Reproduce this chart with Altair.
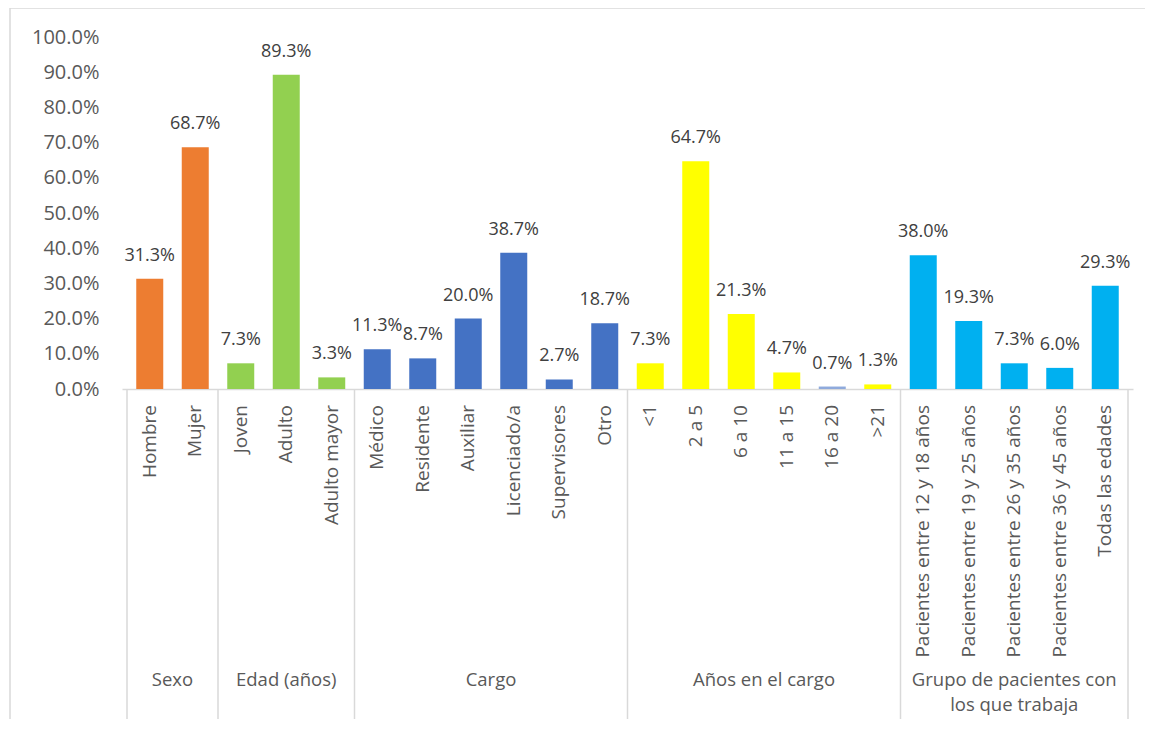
import altair as alt
import pandas as pd

# ---------------- data ----------------
groups = ["Sexo", "Edad (años)", "Cargo", "Años en el cargo",
          "Grupo de pacientes con\nlos que trabaja"]
sexo_cats = ["Hombre", "Mujer"]
sexo_vals = [0.313, 0.687]
edad_cats = ["Joven", "Adulto", "Adulto mayor"]
edad_vals = [0.073, 0.893, 0.033]
cargo_cats = ["Médico", "Residente", "Auxiliar", "Licenciado/a", "Supervisores", "Otro"]
cargo_vals = [0.113, 0.087, 0.200, 0.387, 0.027, 0.187]
anios_cats = ["<1", "2 a 5", "6 a 10", "11 a 15", "16 a 20", ">21"]
anios_vals = [0.073, 0.647, 0.213, 0.047, 0.007, 0.013]
grupo_cats = ["Pacientes entre 12 y 18 años", "Pacientes entre 19 y 25 años",
              "Pacientes entre 26 y 35 años", "Pacientes entre 36 y 45 años",
              "Todas las edades"]
grupo_vals = [0.380, 0.193, 0.073, 0.060, 0.293]
group_colors = ["#ED7D31", "#92D050", "#4472C4", "#FFFF00", "#00B0F0"]
special_color = {"16 a 20": "#8FAADC"}
y_ticks = [0.0, 0.1, 0.2, 0.3, 0.4, 0.5, 0.6, 0.7, 0.8, 0.9, 1.0]

all_cats = [sexo_cats, edad_cats, cargo_cats, anios_cats, grupo_cats]
all_vals = [sexo_vals, edad_vals, cargo_vals, anios_vals, grupo_vals]

rows = []
grows = []
bounds = [0]
i = 0
for g, cats, vals, col in zip(groups, all_cats, all_vals, group_colors):
    start = i
    for c, v in zip(cats, vals):
        rows.append({"cat": c, "value": v, "group": g, "pos": i + 0.5,
                     "color": special_color.get(c, col)})
        i += 1
    bounds.append(i)
    grows.append({"group": g, "mid": (start + i) / 2})
df = pd.DataFrame(rows)
gdf = pd.DataFrame(grows)
bdf = pd.DataFrame({"b": bounds})
N = len(df)

W, H = 1011, 352
FONT = "Open Sans"
AXC = "#595959"
LINEC = "#D9D9D9"

xs = alt.Scale(domain=[0, N], nice=False, zero=False)
ys = alt.Scale(domain=[0, 1], nice=False)
x_axis = alt.Axis(labels=False, ticks=False, grid=False, domain=True,
                  domainColor=LINEC, domainWidth=1.5, title=None)
y_axis = alt.Axis(values=y_ticks, format=".1%", grid=False, ticks=False,
                  tickSize=0, domain=False, labelFont=FONT,
                  labelFontSize=20, labelColor=AXC, labelPadding=23,
                  labelOverlap=False, labelFlush=False, title=None)

base = alt.Chart(df)

bars = base.mark_bar(size=27).encode(
    x=alt.X("pos:Q", scale=xs, axis=x_axis),
    y=alt.Y("value:Q", scale=ys, axis=y_axis),
    color=alt.Color("color:N", scale=None),
)

vlabels = base.mark_text(font=FONT, fontSize=18, color="#404040",
                         baseline="middle", dy=-23).encode(
    x=alt.X("pos:Q", scale=xs, axis=x_axis),
    y=alt.Y("value:Q", scale=ys, axis=y_axis),
    text=alt.Text("value:Q", format=".1%"),
)

catlabels = base.mark_text(font=FONT, fontSize=19, color=AXC, angle=270,
                           align="right", baseline="middle").encode(
    x=alt.X("pos:Q", scale=xs, axis=x_axis),
    y=alt.value(H + 16),
    text="cat:N",
)

seps = alt.Chart(bdf).mark_rule(color=LINEC, strokeWidth=1.5).encode(
    x=alt.X("b:Q", scale=xs, axis=x_axis),
    y=alt.value(H),
    y2=alt.value(H + 332),
)

glabels = alt.Chart(gdf).mark_text(font=FONT, fontSize=18.5, color=AXC,
                                   align="center", baseline="top",
                                   lineBreak="\n", lineHeight=25).encode(
    x=alt.X("mid:Q", scale=xs, axis=x_axis),
    y=alt.value(H + 282),
    text="group:N",
)

frame = alt.Chart(bdf.head(1)).mark_rect(filled=False, stroke=LINEC,
                                         strokeWidth=1.5).encode(
    x=alt.value(-112), x2=alt.value(W + 60),
    y=alt.value(-29), y2=alt.value(H + 400),
)

chart = alt.layer(frame, bars, vlabels, catlabels, seps, glabels).properties(
    width=W, height=H,
    autosize=alt.AutoSizeParams(type="none"),
    padding={"left": 114, "top": 29, "right": 12, "bottom": 330},
).configure_view(strokeWidth=0, stroke="transparent").configure_axisY(labelOverlap=False)

chart.save("out.html", embed_options={"renderer": "svg", "actions": False})
